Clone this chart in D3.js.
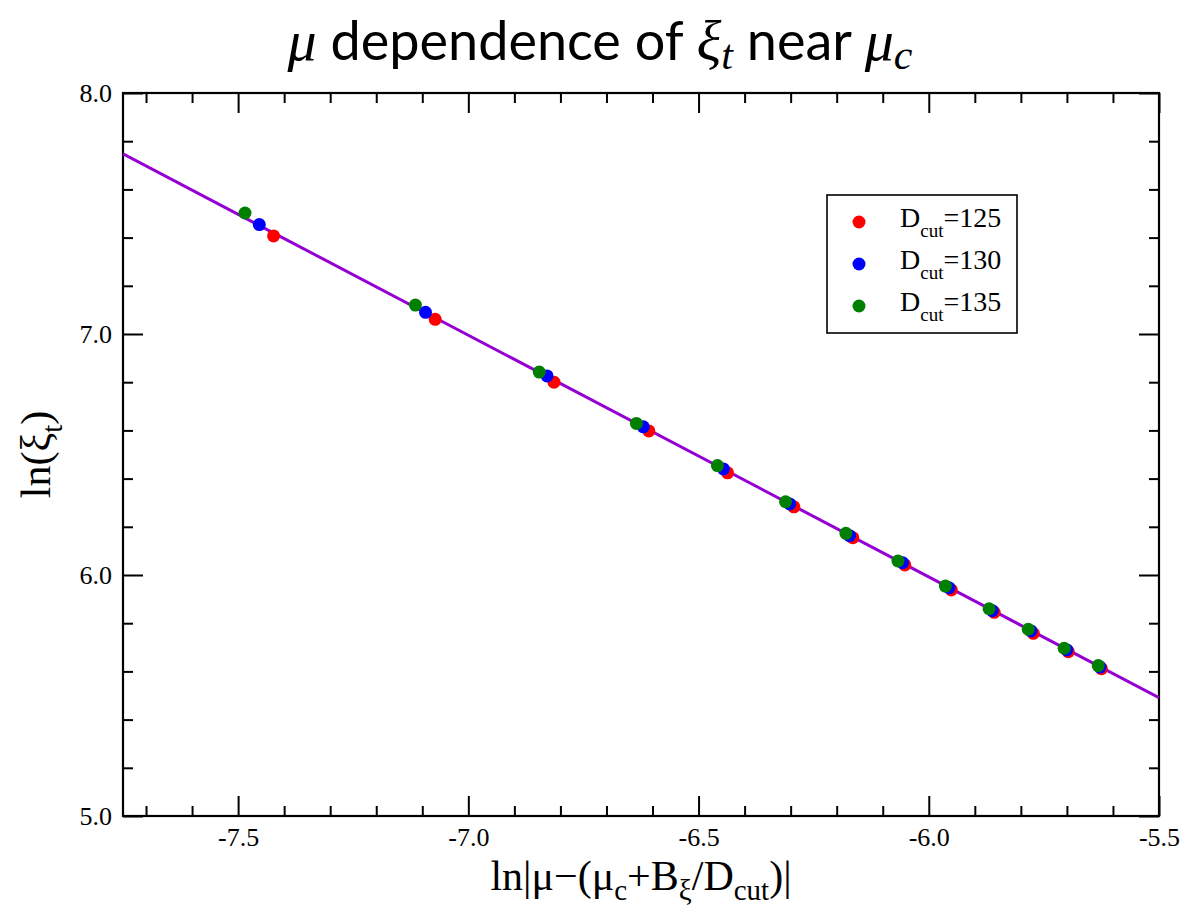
<!DOCTYPE html>
<html>
<head>
<meta charset="utf-8">
<script src="https://cdn.jsdelivr.net/npm/d3@7/dist/d3.min.js"></script>
<style>
  html, body { margin: 0; padding: 0; background: #fff; }
  svg { display: block; }
</style>
</head>
<body>
<svg id="chart" width="1186" height="908"></svg>
<script>
// ln(xi_t) versus ln|mu - (mu_c + B_xi/D_cut)| for three bond dimensions
const dcut125X = [-7.423, -7.072, -6.814, -6.608, -6.437, -6.293, -6.165, -6.052, -5.951, -5.858, -5.773, -5.697, -5.625];
const dcut125Y = [7.407, 7.061, 6.800, 6.598, 6.424, 6.283, 6.155, 6.042, 5.938, 5.845, 5.758, 5.682, 5.611];
const dcut130X = [-7.454, -7.093, -6.829, -6.620, -6.446, -6.302, -6.172, -6.057, -5.956, -5.862, -5.778, -5.700, -5.628];
const dcut130Y = [7.454, 7.090, 6.826, 6.615, 6.440, 6.295, 6.163, 6.051, 5.947, 5.852, 5.768, 5.689, 5.618];
const dcut135X = [-7.485, -7.115, -6.846, -6.635, -6.459, -6.311, -6.180, -6.067, -5.964, -5.869, -5.784, -5.706, -5.632];
const dcut135Y = [7.502, 7.120, 6.842, 6.629, 6.454, 6.304, 6.173, 6.058, 5.954, 5.860, 5.775, 5.696, 5.624];

const seriesNames = ["125", "130", "135"];
const seriesColors = ["#ff0000", "#0000ff", "#008000"];

// Linear fit through all points: ln(xi_t) = fitIntercept + fitSlope * x
const fitSlope = -1.003;
const fitIntercept = -0.026;

const xDomain = [-7.75, -5.5];
const yDomain = [5.0, 8.0];
const xMajorTicks = [-7.5, -7.0, -6.5, -6.0, -5.5];
const xMinorTicks = [-7.7, -7.6, -7.4, -7.3, -7.2, -7.1, -6.9, -6.8, -6.7, -6.6, -6.4, -6.3, -6.2, -6.1, -5.9, -5.8, -5.7, -5.6];
const yMajorTicks = [5.0, 6.0, 7.0, 8.0];
const yMinorTicks = [5.2, 5.4, 5.6, 5.8, 6.2, 6.4, 6.6, 6.8, 7.2, 7.4, 7.6, 7.8];

const svg = d3.select("#chart");
const serif = "'Liberation Serif', 'Times New Roman', serif";
const frame = { left: 123, right: 1159, top: 93, bottom: 816 };

const x = d3.scaleLinear().domain(xDomain).range([frame.left, frame.right]);
const y = d3.scaleLinear().domain(yDomain).range([frame.bottom, frame.top]);

const fmt = d => d.toFixed(1);

// writes text made of plain runs and subscript runs
function richText(sel, parts, subShift) {
  let shift = 0;
  parts.forEach(p => {
    const t = sel.append("tspan").text(p.t);
    const target = p.sub ? subShift : 0;
    if (target !== shift) { t.attr("dy", target - shift); shift = target; }
    if (p.size) t.attr("font-size", p.size);
    if (p.family) t.attr("font-family", p.family);
    if (p.style) t.attr("font-style", p.style);
  });
}

// axes: ticks point inward on all four sides
function styleAxis(g) {
  g.select(".domain").remove();
  g.selectAll(".tick line").attr("stroke", "#000").attr("stroke-width", 2);
  g.selectAll(".tick text").attr("font-family", serif).attr("font-size", 26).attr("fill", "#000");
}

svg.append("g").attr("transform", `translate(0,${frame.bottom})`)
  .call(d3.axisBottom(x).tickValues(xMajorTicks).tickSize(-20).tickPadding(12).tickFormat(fmt))
  .call(styleAxis);
svg.append("g").attr("transform", `translate(0,${frame.bottom})`)
  .call(d3.axisBottom(x).tickValues(xMinorTicks).tickSize(-10).tickFormat(""))
  .call(styleAxis);
svg.append("g").attr("transform", `translate(0,${frame.top})`)
  .call(d3.axisTop(x).tickValues(xMajorTicks).tickSize(-20).tickFormat(""))
  .call(styleAxis);
svg.append("g").attr("transform", `translate(0,${frame.top})`)
  .call(d3.axisTop(x).tickValues(xMinorTicks).tickSize(-10).tickFormat(""))
  .call(styleAxis);

svg.append("g").attr("transform", `translate(${frame.left},0)`)
  .call(d3.axisLeft(y).tickValues(yMajorTicks).tickSize(-20).tickPadding(11).tickFormat(fmt))
  .call(styleAxis);
svg.append("g").attr("transform", `translate(${frame.left},0)`)
  .call(d3.axisLeft(y).tickValues(yMinorTicks).tickSize(-10).tickFormat(""))
  .call(styleAxis);
svg.append("g").attr("transform", `translate(${frame.right},0)`)
  .call(d3.axisRight(y).tickValues(yMajorTicks).tickSize(-20).tickFormat(""))
  .call(styleAxis);
svg.append("g").attr("transform", `translate(${frame.right},0)`)
  .call(d3.axisRight(y).tickValues(yMinorTicks).tickSize(-10).tickFormat(""))
  .call(styleAxis);

// plot frame
svg.append("rect")
  .attr("x", frame.left).attr("y", frame.top)
  .attr("width", frame.right - frame.left).attr("height", frame.bottom - frame.top)
  .attr("fill", "none").attr("stroke", "#000").attr("stroke-width", 2.2);

svg.append("clipPath").attr("id", "plotClip")
  .append("rect")
  .attr("x", frame.left).attr("y", frame.top)
  .attr("width", frame.right - frame.left).attr("height", frame.bottom - frame.top);

const plot = svg.append("g").attr("clip-path", "url(#plotClip)");

// fit line across the full x range
const fitPts = xDomain.map(v => [v, fitIntercept + fitSlope * v]);
plot.append("path")
  .attr("d", d3.line().x(d => x(d[0])).y(d => y(d[1]))(fitPts))
  .attr("fill", "none").attr("stroke", "#9400d3").attr("stroke-width", 3);

// data points: D_cut = 125, 130, 135 (later series drawn on top)
const seriesX = [dcut125X, dcut130X, dcut135X];
const seriesY = [dcut125Y, dcut130Y, dcut135Y];
seriesX.forEach((xs, i) => {
  plot.append("g").selectAll("circle")
    .data(xs.map((v, j) => [v, seriesY[i][j]]))
    .join("circle")
    .attr("cx", d => x(d[0])).attr("cy", d => y(d[1]))
    .attr("r", 6.5).attr("fill", seriesColors[i]);
});

// legend
const legend = svg.append("g");
legend.append("rect")
  .attr("x", 827).attr("y", 195).attr("width", 190).attr("height", 138)
  .attr("fill", "#fff").attr("stroke", "#000").attr("stroke-width", 1.6);
seriesNames.forEach((name, i) => {
  const cy = 222 + i * 42;
  legend.append("circle").attr("cx", 859).attr("cy", cy).attr("r", 6.5).attr("fill", seriesColors[i]);
  const t = legend.append("text")
    .attr("x", 900).attr("y", cy + 5)
    .attr("font-family", serif).attr("font-size", 28).attr("fill", "#000");
  richText(t, [{ t: "D" }, { t: "cut", sub: true, size: 19 }, { t: "=" + name }], 10);
});

// axis titles
const xTitle = svg.append("text")
  .attr("x", (frame.left + frame.right) / 2).attr("y", 890)
  .attr("text-anchor", "middle")
  .attr("font-family", serif).attr("font-size", 42).attr("fill", "#000");
richText(xTitle, [
  { t: "ln|μ−(μ" }, { t: "c", sub: true, size: 29 }, { t: "+B" }, { t: "ξ", sub: true, size: 29 },
  { t: "/D" }, { t: "cut", sub: true, size: 29 }, { t: ")|" }
], 10);

const yTitle = svg.append("text")
  .attr("transform", `translate(50,${(frame.top + frame.bottom) / 2}) rotate(-90)`)
  .attr("text-anchor", "middle")
  .attr("font-family", serif).attr("font-size", 42).attr("fill", "#000");
richText(yTitle, [{ t: "ln(ξ" }, { t: "t", sub: true, size: 29 }, { t: ")" }], 12);

// chart title
const title = svg.append("text")
  .attr("x", 600).attr("y", 60)
  .attr("text-anchor", "middle")
  .attr("font-family", "Lato, 'Open Sans', sans-serif").attr("font-size", 54).attr("fill", "#000");
richText(title, [
  { t: "μ", family: serif, style: "italic", size: 58 },
  { t: " dependence of " },
  { t: "ξ", family: serif, style: "italic", size: 58 },
  { t: "t", sub: true, family: serif, style: "italic", size: 42 },
  { t: " near " },
  { t: "μ", family: serif, style: "italic", size: 58 },
  { t: "c", sub: true, family: serif, style: "italic", size: 42 }
], 9);
</script>
</body>
</html>
